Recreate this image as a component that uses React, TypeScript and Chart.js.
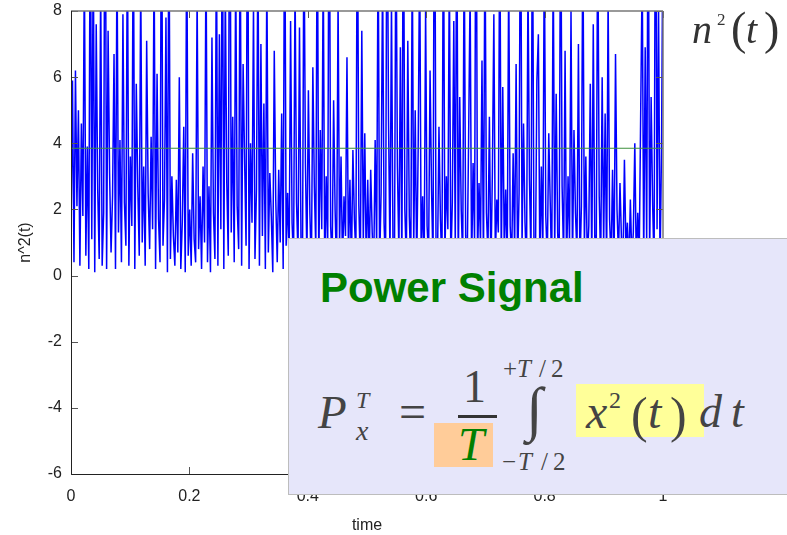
import React, { useEffect, useRef } from "react";
import { Chart, registerables } from "chart.js";

Chart.register(...registerables);

// n^2(t) samples, eight segments of 1/8 s each
const seg1 = [1.2, 5.9, 0.4, 6.2, 2.1, 5.0, 0.3, 4.6, 1.8, 9.5, 0.6, 3.9, 0.2, 12.4, 1.1, 10.2, 0.1, 7.6, 2.6, 0.5, 8.9, 0.3, 1.9, 14.8, 0.2, 7.4, 3.1, 0.7, 2.4, 6.7, 0.2, 9.8, 1.3, 4.1, 0.4, 7.9, 2.2, 0.9, 10.6, 0.3, 3.6, 1.5, 11.3, 0.2, 5.8, 2.7, 0.6, 9.1, 1.0, 3.3];
const seg2 = [0.3, 7.1, 2.5, 0.8, 4.2, 1.4, 9.7, 0.2, 6.1, 1.7, 0.4, 13.2, 0.9, 2.3, 7.8, 0.1, 11.6, 0.5, 3.0, 1.2, 0.3, 2.9, 0.7, 6.0, 0.2, 1.6, 4.5, 0.1, 10.9, 0.6, 2.0, 0.3, 3.7, 1.1, 0.4, 8.6, 0.8, 2.4, 0.2, 3.3, 1.0, 9.9, 0.4, 2.7, 0.1, 7.2, 1.9, 0.5, 10.4, 0.3];
const seg3 = [7.3, 1.4, 12.1, 0.2, 8.8, 2.8, 0.6, 15.5, 1.3, 4.8, 0.4, 9.4, 2.1, 0.8, 11.0, 0.3, 6.4, 3.5, 0.9, 13.7, 0.2, 4.0, 1.6, 8.2, 0.5, 2.6, 10.1, 0.3, 7.0, 1.2, 5.2, 0.2, 9.3, 0.7, 3.1, 1.8, 0.1, 6.8, 2.3, 0.4, 3.2, 1.0, 4.9, 0.2, 12.6, 0.9, 2.5, 0.3, 7.7, 1.6];
const seg4 = [0.4, 9.0, 2.2, 0.6, 7.5, 1.1, 0.2, 10.8, 3.4, 0.5, 5.6, 1.9, 0.1, 6.3, 2.7, 0.8, 11.9, 0.3, 4.4, 1.4, 9.6, 0.2, 3.0, 0.7, 14.1, 1.5, 0.4, 5.3, 2.0, 0.1, 8.4, 0.9, 3.6, 0.3, 2.4, 1.2, 6.6, 0.5, 2.9, 0.2, 3.8, 1.7, 0.6, 12.3, 2.1, 0.3, 7.4, 1.0, 4.3, 0.2];
const seg5 = [2.9, 0.4, 3.2, 1.3, 0.1, 4.1, 0.8, 10.5, 0.3, 2.5, 9.2, 1.6, 0.2, 13.4, 4.7, 0.5, 8.3, 1.0, 0.2, 11.2, 3.3, 0.6, 6.9, 0.1, 12.8, 2.0, 0.4, 7.1, 1.8, 0.3, 9.8, 0.9, 5.0, 0.2, 3.9, 10.0, 0.7, 2.4, 0.1, 8.1, 1.5, 0.5, 6.2, 2.6, 0.3, 15.0, 1.1, 0.4, 4.5, 1.7];
const seg6 = [0.2, 11.7, 0.6, 3.0, 1.4, 9.5, 0.3, 2.2, 7.7, 0.8, 12.0, 0.1, 5.4, 2.0, 0.5, 10.3, 1.2, 0.3, 4.2, 8.7, 0.2, 3.4, 1.0, 14.4, 0.4, 2.8, 0.9, 6.5, 0.2, 10.7, 1.9, 0.6, 4.8, 0.1, 3.1, 7.9, 0.5, 2.3, 1.3, 11.4, 0.3, 5.7, 0.8, 2.6, 0.2, 9.2, 1.5, 0.4, 3.7, 0.7];
const seg7 = [6.4, 0.3, 2.5, 13.0, 0.9, 4.6, 1.6, 0.2, 8.9, 2.9, 0.5, 11.8, 1.1, 0.3, 5.9, 7.3, 0.2, 3.3, 0.6, 10.1, 1.8, 0.4, 4.3, 2.2, 0.1, 9.7, 0.7, 5.5, 1.3, 0.2, 12.5, 2.7, 0.5, 6.8, 0.1, 3.0, 1.0, 8.0, 0.3, 4.4, 1.9, 0.6, 7.0, 0.2, 2.1, 10.6, 0.8, 3.6, 0.4, 1.5];
const seg8 = [5.8, 0.2, 7.6, 1.2, 0.5, 11.1, 2.4, 0.3, 6.0, 0.9, 4.9, 0.2, 8.5, 1.7, 0.4, 3.2, 0.1, 6.7, 2.0, 0.6, 2.8, 1.1, 0.3, 3.5, 0.8, 1.6, 0.2, 2.3, 0.5, 1.3, 4.0, 0.3, 1.9, 0.7, 5.1, 9.3, 0.4, 6.9, 1.0, 12.7, 0.5, 5.4, 2.2, 0.2, 14.6, 1.4, 8.1, 0.3, 3.8, 10.9];

const meanPower = 3.85;
const xTicks = [0, 0.2, 0.4, 0.6, 0.8, 1];
const yTicks = [-6, -4, -2, 0, 2, 4, 6, 8];

const W = 787;
const H = 535;

const framePlugin = {
  id: "frame",
  afterDatasetsDraw(chart: any) {
    const { ctx, chartArea, scales } = chart;
    const { left, right, top, bottom } = chartArea;
    const xs = scales.x;
    const ys = scales.y;
    ctx.save();
    ctx.lineWidth = 1;
    ctx.strokeStyle = "#555";
    const seg = (a: number, b: number, c: number, d: number) => {
      ctx.beginPath();
      ctx.moveTo(a, b);
      ctx.lineTo(c, d);
      ctx.stroke();
    };
    for (const v of yTicks) {
      const py = Math.round(ys.getPixelForValue(v)) + 0.5;
      seg(left, py, left + 7, py);
      seg(right, py, right - 7, py);
    }
    for (const v of xTicks) {
      const px = Math.round(xs.getPixelForValue(v)) + 0.5;
      seg(px, bottom, px, bottom - 7);
      seg(px, top, px, top + 7);
    }
    ctx.strokeStyle = "#777";
    ctx.lineWidth = 1.5;
    seg(left, top, right, top);
    seg(right, top, right, bottom);
    ctx.strokeStyle = "#222";
    ctx.lineWidth = 1;
    const l = Math.round(left) + 0.5;
    const b = Math.round(bottom) + 0.5;
    seg(l, top, l, b);
    seg(l, b, right, b);
    ctx.restore();
  },
};

type GProps = {
  x: number;
  base: number;
  size: number;
  children: React.ReactNode;
  color?: string;
  italic?: boolean;
  weight?: string;
  family?: string;
  k?: number;
};

const G = ({ x, base, size, children, color = "#444", italic = true, weight = "normal", family = '"Liberation Serif", serif', k = 0.8375 }: GProps) => (
  <span
    style={{
      position: "absolute",
      left: x,
      top: base - k * size,
      fontSize: size,
      lineHeight: `${size}px`,
      fontFamily: family,
      fontStyle: italic ? "italic" : "normal",
      fontWeight: weight as any,
      color,
      whiteSpace: "nowrap",
    }}
  >
    {children}
  </span>
);

const Box = ({ x, y, w, h, bg }: { x: number; y: number; w: number; h: number; bg: string }) => (
  <div style={{ position: "absolute", left: x, top: y, width: w, height: h, background: bg }} />
);

const fmt = (v: any) => String(+Number(v).toFixed(2));

export default function App() {
  const ref = useRef<HTMLCanvasElement | null>(null);

  useEffect(() => {
    const values = [...seg1, ...seg2, ...seg3, ...seg4, ...seg5, ...seg6, ...seg7, ...seg8];
    const n = values.length;
    const pts = values.map((v, i) => ({ x: i / (n - 1), y: v }));
    const chart = new Chart(ref.current as HTMLCanvasElement, {
      type: "line",
      data: {
        datasets: [
          {
            data: [
              { x: 0, y: meanPower },
              { x: 1, y: meanPower },
            ],
            borderColor: "#3d8f3d",
            borderWidth: 1.2,
            pointRadius: 0,
            order: 0,
          },
          {
            data: pts,
            borderColor: "#0000ff",
            borderWidth: 1.5,
            pointRadius: 0,
            tension: 0,
            order: 1,
          },
        ],
      },
      options: {
        responsive: false,
        animation: false,
        devicePixelRatio: 1,
        layout: { padding: { top: 11, right: 124, left: 0, bottom: 0 } },
        plugins: { legend: { display: false }, tooltip: { enabled: false } },
        scales: {
          x: {
            type: "linear",
            min: 0,
            max: 1,
            grid: { display: false, drawTicks: false },
            border: { display: false },
            ticks: {
              stepSize: 0.2,
              padding: 13,
              color: "#222",
              font: { family: '"Liberation Sans", Arial, sans-serif', size: 16 },
              maxRotation: 0,
              callback: (v: any) => fmt(v),
            },
            title: {
              display: true,
              text: "time",
              color: "#222",
              font: { family: '"Liberation Sans", Arial, sans-serif', size: 16 },
              padding: { top: 0, bottom: 0 },
            },
            afterFit: (s: any) => {
              s.height = 61;
              s.paddingLeft = 0;
              s.paddingRight = 0;
            },
          },
          y: {
            min: -6,
            max: 8,
            grid: { display: false, drawTicks: false },
            border: { display: false },
            ticks: {
              stepSize: 2,
              padding: 9,
              color: "#222",
              font: { family: '"Liberation Sans", Arial, sans-serif', size: 16 },
              callback: (v: any) => fmt(v),
            },
            title: {
              display: true,
              text: "n^2(t)",
              color: "#222",
              font: { family: '"Liberation Sans", Arial, sans-serif', size: 16 },
              padding: { top: 16, bottom: 0 },
            },
            afterFit: (s: any) => {
              s.width = 71;
              s.paddingTop = 0;
              s.paddingBottom = 0;
            },
          },
        },
      },
      plugins: [framePlugin],
    });
    return () => chart.destroy();
  }, []);

  return (
    <div style={{ position: "fixed", left: 0, top: 0, width: W, height: H, background: "#fff", overflow: "hidden" }}>
      <canvas ref={ref} width={W} height={H} style={{ display: "block", width: W, height: H }} />

      {/* top-right label */}
      <G x={692} base={43} size={40} color="#333">n</G>
      <G x={717} base={25} size={17} color="#333" italic={false}>2</G>
      <G x={731} base={45} size={46} color="#333" italic={false}>(</G>
      <G x={746} base={43} size={40} color="#333">t</G>
      <G x={764} base={45} size={46} color="#333" italic={false}>)</G>

      {/* overlay panel */}
      <div
        style={{
          position: "absolute",
          left: 288,
          top: 238,
          width: 500,
          height: 257,
          background: "#e6e6fa",
          border: "1px solid #bdbdbd",
          boxSizing: "border-box",
        }}
      />
      <G x={320} base={303} size={42} color="#008000" italic={false} weight="bold" family='"Liberation Sans", Arial, sans-serif' k={0.8465}>
        Power Signal
      </G>

      <Box x={434} y={423} w={59} h={44} bg="#ffcc99" />
      <Box x={576} y={384} w={128} h={53} bg="#ffff99" />

      <G x={318} base={428} size={47}>P</G>
      <G x={356} base={408} size={24}>T</G>
      <G x={356} base={440} size={28}>x</G>
      <G x={399} base={428} size={48} italic={false}>=</G>
      <G x={463} base={403} size={46} italic={false}>1</G>
      <div style={{ position: "absolute", left: 458, top: 415, width: 39, height: 3, background: "#333" }} />
      <G x={458} base={460} size={47} color="#008000">T</G>
      <G x={503} base={377} size={25} italic={false}>+</G>
      <G x={517} base={377} size={25}>T</G>
      <G x={539} base={377} size={25} italic={false}>/</G>
      <G x={551} base={377} size={25} italic={false}>2</G>
      <G x={502} base={470} size={25} italic={false}>−</G>
      <G x={518} base={470} size={25}>T</G>
      <G x={541} base={470} size={25} italic={false}>/</G>
      <G x={553} base={470} size={25} italic={false}>2</G>
      <G x={526} base={429} size={60} italic={false}>∫</G>
      <G x={586} base={428} size={48}>x</G>
      <G x={609} base={408} size={24} italic={false}>2</G>
      <G x={631} base={432} size={50} italic={false}>(</G>
      <G x={648} base={428} size={48}>t</G>
      <G x={670} base={432} size={50} italic={false}>)</G>
      <G x={699} base={428} size={46}>d</G>
      <G x={731} base={428} size={46}>t</G>
    </div>
  );
}
